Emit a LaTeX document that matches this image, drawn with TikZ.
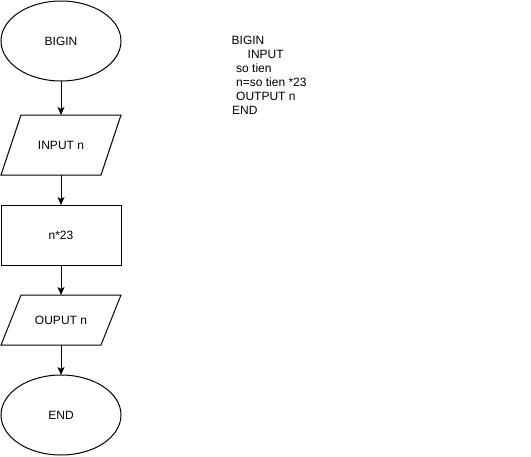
\documentclass[tikz,border=0pt]{standalone}
\usepackage{fontspec}
\setmainfont{Liberation Sans}
\usetikzlibrary{shapes.geometric,arrows.meta,calc}
\begin{document}
\begin{tikzpicture}[x=1pt,y=-1pt,
  every node/.style={font=\fontsize{12}{14}\selectfont},
  terminal/.style={ellipse,draw,line width=1pt,minimum width=120pt,minimum height=80pt,inner sep=0pt,outer sep=0pt},
  box/.style={rectangle,draw,line width=1pt,minimum width=120pt,minimum height=60pt,inner sep=0pt,outer sep=0pt},
  io/.style={rectangle,minimum width=120pt,inner sep=0pt,outer sep=0pt},
  slanted/.style={line width=1pt,line join=miter},
  flow/.style={-{Stealth[length=8pt,width=7pt,inset=2pt]},line width=1pt},
  listing/.style={anchor=base west,inner sep=0pt}]
\useasboundingbox (0,0) rectangle (531,456);

% flowchart column
\node[terminal] (begin) at (61,41) {BIGIN};
\node[io,minimum height=60pt] (input) at (61,145) {INPUT n};
\node[box] (calc) at (61,235) {n*23};
\node[io,minimum height=50pt] (output) at (61,320) {OUPUT n};
\node[terminal] (end) at (61,415) {END};

% parallelogram outlines for the input/output steps
\foreach \n in {input,output}{
  \draw[slanted] ($(\n.north west)+(20,0)$) -- (\n.north east)
    -- ($(\n.south east)+(-20,0)$) -- (\n.south west) -- cycle;
}

% connectors
\draw[flow] (begin) -- (input);
\draw[flow] (input) -- (calc);
\draw[flow] (calc) -- (output);
\draw[flow] (output) -- (end);

% pseudocode listing
\node[listing] (l1) at (231.5,44) {BIGIN};
\node[listing] (l2) at (247.5,58) {INPUT};
\node[listing] (l3) at (236,72) {so tien};
\node[listing] (l4) at (236,86) {n=so tien *23};
\node[listing] (l5) at (236,100) {OUTPUT n};
\node[listing] (l6) at (232,114) {END};
\end{tikzpicture}
\end{document}
